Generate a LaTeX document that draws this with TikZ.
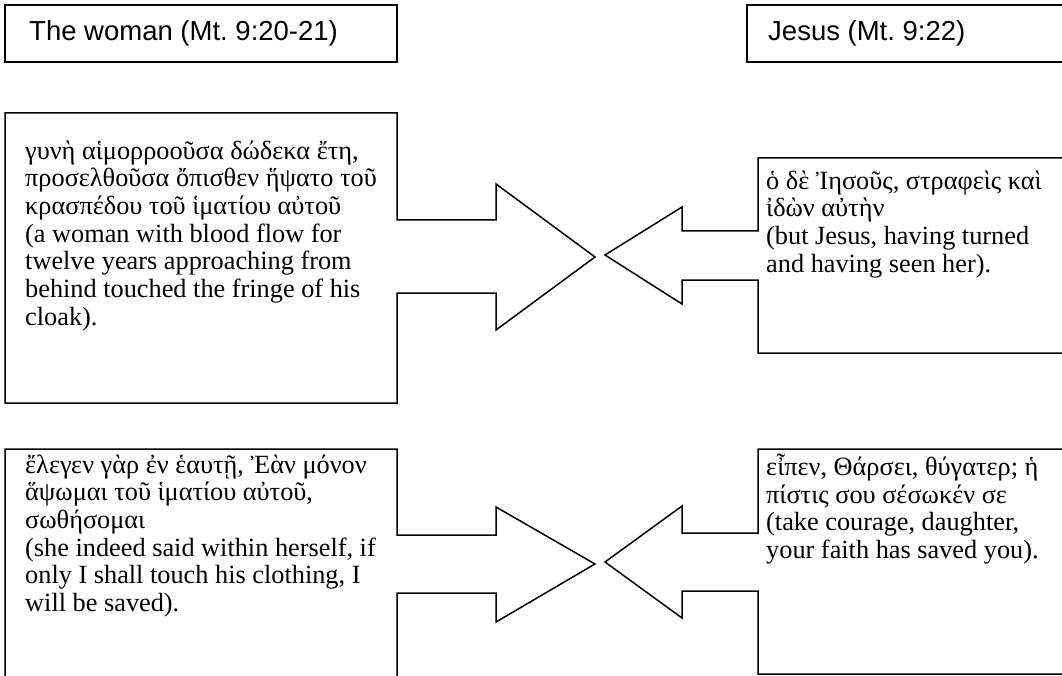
\documentclass[tikz,border=0pt]{standalone}
\usepackage{fontspec}
\setmainfont{Liberation Serif}
\newfontfamily\headfont{Liberation Sans}
\frenchspacing
\begin{document}
\begin{tikzpicture}[x=1pt,y=-1pt,
  shapeline/.style={line width=1.5pt, line join=miter, draw=black},
  bodytext/.style={anchor=north west, inner sep=0pt, align=left, font=\fontsize{26.3}{27.7}\selectfont},
  headtext/.style={anchor=base west, inner sep=0pt, font=\headfont\fontsize{27.5}{30}\selectfont}]
\useasboundingbox (0,0) rectangle (1062,676);
\clip (0,0) rectangle (1062,676);
% header boxes
\draw[shapeline] (5,5) rectangle (397,62);
\draw[shapeline] (1075,5) -- (747,5) -- (747,62) -- (1075,62);
\node[headtext] (hwoman) at (29,40.5) {The woman (Mt. 9:20-21)};
\node[headtext] (hjesus) at (768,40.5) {Jesus (Mt. 9:22)};
% left shape 1
\draw[shapeline] (5,113) -- (397,113) -- (397,220) -- (496,220) -- (496,184) -- (595,257)
  -- (496,330) -- (496,293) -- (397,293) -- (397,403) -- (5,403) -- cycle;
% right shape 1
\draw[shapeline] (1075,158) -- (758,158) -- (758,231) -- (682,231) -- (682,207) -- (605,255)
  -- (682,304) -- (682,280) -- (758,280) -- (758,353) -- (1075,353);
% left shape 2
\draw[shapeline] (5,690) -- (5,449) -- (397,449) -- (397,535) -- (496,535) -- (496,507) -- (595,564)
  -- (496,622) -- (496,593) -- (397,593) -- (397,690);
% right shape 2
\draw[shapeline] (1075,449) -- (758,449) -- (758,533) -- (682,533) -- (682,506) -- (605,562)
  -- (682,618) -- (682,591) -- (758,591) -- (758,674) -- (1075,674);
% texts
\node[bodytext] (t1) at (25,139.6) {\strut γυνὴ αἱμορροοῦσα δώδεκα ἔτη,\\
προσελθοῦσα ὄπισθεν ἥψατο τοῦ\\
κρασπέδου τοῦ ἱματίου αὐτοῦ\\
(a woman with blood flow for\\
twelve years approaching from\\
behind touched the fringe of his\\
cloak).};
\node[bodytext] (t2) at (766,169.6) {\strut ὁ δὲ Ἰησοῦς, στραφεὶς καὶ\\
ἰδὼν αὐτὴν\\
(but Jesus, having turned\\
and having seen her).};
\node[bodytext] (t3) at (25,453.6) {\strut ἔλεγεν γὰρ ἐν ἑαυτῇ, Ἐὰν μόνον\\
ἅψωμαι τοῦ ἱματίου αὐτοῦ,\\
σωθήσομαι\\
(she indeed said within herself, if\\
only I shall touch his clothing, I\\
will be saved).};
\node[bodytext] (t4) at (766,453.6) {\strut εἶπεν, Θάρσει, θύγατερ; ἡ\\
πίστις σου σέσωκέν σε\\
(take courage, daughter,\\
your faith has saved you).};
\end{tikzpicture}
\end{document}
